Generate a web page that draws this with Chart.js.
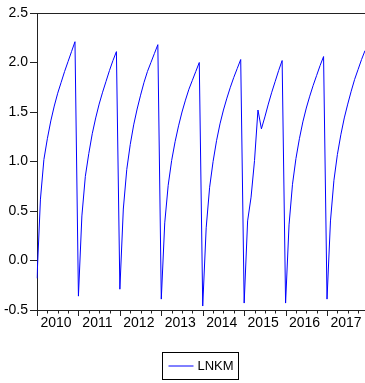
<!DOCTYPE html>
<html>
<head>
<meta charset="utf-8">
<script src="https://cdn.jsdelivr.net/npm/chart.js@4"></script>
<style>
  html, body { margin: 0; padding: 0; background: #fff; }
  #wrap { width: 365px; height: 383px; position: relative; }
</style>
</head>
<body>
<div id="wrap"><canvas id="c" width="365" height="383"></canvas></div>
<script>
// ---- Data (monthly) ----
const yearLabels = ['2010', '2011', '2012', '2013', '2014', '2015', '2016', '2017'];
const monthCodes = ['M01','M02','M03','M04','M05','M06','M07','M08','M09','M10','M11','M12'];
const yTicks = [-0.5, 0.0, 0.5, 1.0, 1.5, 2.0, 2.5];

const lnkm2010 = [-0.18, 0.62, 1.02, 1.23, 1.41, 1.56, 1.69, 1.80, 1.91, 2.01, 2.11, 2.21];
const lnkm2011 = [-0.36, 0.45, 0.85, 1.08, 1.28, 1.44, 1.58, 1.70, 1.81, 1.92, 2.02, 2.11];
const lnkm2012 = [-0.29, 0.52, 0.92, 1.17, 1.37, 1.53, 1.67, 1.80, 1.91, 2.00, 2.09, 2.18];
const lnkm2013 = [-0.39, 0.38, 0.76, 1.01, 1.20, 1.36, 1.50, 1.62, 1.73, 1.82, 1.91, 2.00];
const lnkm2014 = [-0.46, 0.33, 0.74, 1.00, 1.21, 1.38, 1.52, 1.64, 1.75, 1.85, 1.94, 2.03];
const lnkm2015 = [-0.43, 0.40, 0.64, 1.01, 1.52, 1.33, 1.45, 1.58, 1.70, 1.81, 1.92, 2.02];
const lnkm2016 = [-0.43, 0.36, 0.77, 1.03, 1.23, 1.40, 1.54, 1.66, 1.77, 1.87, 1.97, 2.06];
const lnkm2017 = [-0.39, 0.40, 0.81, 1.07, 1.27, 1.44, 1.58, 1.71, 1.83, 1.93, 2.03, 2.12];

const seriesName = 'LNKM';

// ---- Build the table the library needs ----
const byYear = [lnkm2010, lnkm2011, lnkm2012, lnkm2013, lnkm2014, lnkm2015, lnkm2016, lnkm2017];
const categories = [];
const values = [];
yearLabels.forEach((y, yi) => {
  monthCodes.forEach((m, mi) => {
    categories.push(y + m);
    values.push(byYear[yi][mi]);
  });
});

const AXIS = '#222222';
const FONT = '"Liberation Sans", Arial, sans-serif';

const decorPlugin = {
  id: 'decor',
  afterDraw(chart) {
    const ctx = chart.ctx;
    const area = chart.chartArea;
    const xs = chart.scales.x;
    ctx.save();
    // top frame line
    ctx.strokeStyle = AXIS;
    ctx.lineWidth = 1;
    ctx.beginPath();
    ctx.moveTo(area.left, Math.round(area.top) + 0.5);
    ctx.lineTo(area.right, Math.round(area.top) + 0.5);
    ctx.stroke();

    // x ticks: quarterly minor, yearly major
    const base = Math.round(area.bottom);
    ctx.beginPath();
    for (let i = 0; i < categories.length; i += 3) {
      const px = Math.round(xs.getPixelForValue(i)) + 0.5;
      const len = (i % 12 === 0) ? 6 : 3.5;
      ctx.moveTo(px, base);
      ctx.lineTo(px, base + len);
    }
    ctx.stroke();

    // year labels centred in each year
    ctx.fillStyle = '#000';
    ctx.font = '14px ' + FONT;
    ctx.textAlign = 'center';
    ctx.textBaseline = 'middle';
    yearLabels.forEach((y, yi) => {
      const i0 = yi * 12;
      const i1 = yi * 12 + 11;
      const cx = (xs.getPixelForValue(i0) + xs.getPixelForValue(i1)) / 2;
      ctx.fillText(y, cx, base + 13);
    });

    // legend box
    const ds = chart.data.datasets[0];
    const bx = 162.5, by = 352.5, bw = 76, bh = 27;
    ctx.strokeStyle = '#000';
    ctx.lineWidth = 1;
    ctx.strokeRect(bx, by, bw, bh);
    const my = by + bh / 2;
    ctx.strokeStyle = ds.borderColor;
    ctx.beginPath();
    ctx.moveTo(bx + 6, my);
    ctx.lineTo(bx + 31, my);
    ctx.stroke();
    ctx.fillStyle = '#000';
    ctx.font = '13px ' + FONT;
    ctx.textAlign = 'left';
    ctx.fillText(ds.label, bx + 35, my + 0.5);
    ctx.restore();
  }
};

new Chart(document.getElementById('c'), {
  type: 'line',
  data: {
    labels: categories,
    datasets: [{
      label: seriesName,
      data: values,
      borderColor: '#0000FF',
      borderWidth: 1,
      pointRadius: 0,
      tension: 0,
      fill: false
    }]
  },
  options: {
    responsive: false,
    animation: false,
    devicePixelRatio: 1,
    layout: { padding: { top: 13, right: 0, bottom: 0, left: 0 } },
    plugins: {
      legend: { display: false },
      tooltip: { enabled: false }
    },
    scales: {
      x: {
        type: 'category',
        offset: false,
        grid: { display: false },
        ticks: { display: false },
        border: { display: true, color: AXIS, width: 1 },
        afterFit(s) { s.height = 73; }
      },
      y: {
        min: -0.5,
        max: 2.5,
        afterBuildTicks(s) { s.ticks = yTicks.map(v => ({ value: v })); },
        grid: { drawOnChartArea: false, drawTicks: true, tickLength: 7, tickColor: AXIS },
        border: { display: true, color: AXIS, width: 1 },
        ticks: {
          padding: 2,
          color: '#000',
          font: { family: FONT, size: 14 },
          callback: v => Number(v).toFixed(1)
        },
        afterFit(s) { s.width = 37; }
      }
    }
  },
  plugins: [decorPlugin]
});
</script>
</body>
</html>
